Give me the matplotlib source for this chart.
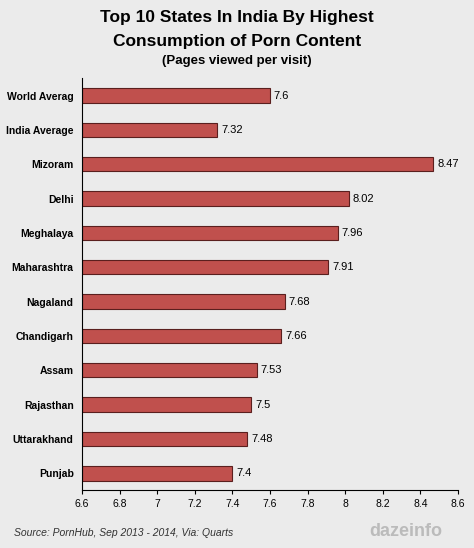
import matplotlib
matplotlib.use("Agg")
import matplotlib.pyplot as plt
import numpy as np

categories = ["World Averag", "India Average", "Mizoram", "Delhi", "Meghalaya", "Maharashtra",
              "Nagaland", "Chandigarh", "Assam", "Rajasthan", "Uttarakhand", "Punjab"]
values = [7.6, 7.32, 8.47, 8.02, 7.96, 7.91, 7.68, 7.66, 7.53, 7.5, 7.48, 7.4]
labels = ["7.6", "7.32", "8.47", "8.02", "7.96", "7.91", "7.68", "7.66", "7.53", "7.5", "7.48", "7.4"]
ticks = [6.6, 6.8, 7, 7.2, 7.4, 7.6, 7.8, 8, 8.2, 8.4, 8.6]
tick_labels = ["6.6", "6.8", "7", "7.2", "7.4", "7.6", "7.8", "8", "8.2", "8.4", "8.6"]

plt.rcParams['font.family'] = ['Liberation Sans', 'DejaVu Sans']
fig = plt.figure(figsize=(4.74, 5.48), dpi=100)
fig.patch.set_facecolor('#ebebeb')
ax = fig.add_axes([0.173, 0.105, 0.793, 0.752])
ax.set_facecolor('#ebebeb')
y = np.arange(len(categories))
ax.barh(y, [v - 6.6 for v in values], left=6.6, height=0.42, color='#c0504d', edgecolor='#5a1f1e', linewidth=0.8)
for yi, v, l in zip(y, values, labels):
    ax.text(v + 0.02, yi, l, va='center', ha='left', fontsize=8)
ax.set_xlim(6.6, 8.6)
ax.set_ylim(len(categories) - 0.5, -0.5)
ax.set_yticks(y)
ax.set_yticklabels(categories, fontsize=7.5, fontweight='bold')
ax.set_xticks(ticks)
ax.set_xticklabels(tick_labels, fontsize=7.5)
for s in ['top', 'right']:
    ax.spines[s].set_visible(False)
ax.tick_params(axis='y', length=0, pad=6)
ax.tick_params(axis='x', direction='out', length=3)
fig.text(0.5, 0.968, "Top 10 States In India By Highest", ha='center', va='center', fontsize=12.5, fontweight='bold')
fig.text(0.5, 0.925, "Consumption of Porn Content", ha='center', va='center', fontsize=12.5, fontweight='bold')
fig.text(0.5, 0.888, "(Pages viewed per visit)", ha='center', va='center', fontsize=9.5, fontweight='bold')
fig.text(0.03, 0.022, "Source: PornHub, Sep 2013 - 2014, Via: Quarts", fontsize=7.5, style='italic', color='#333333')
fig.text(0.78, 0.022, "dazeinfo", fontsize=13, color='#bbbbbb', fontweight='bold')
fig.savefig("out.png", dpi=100, facecolor=fig.get_facecolor())
